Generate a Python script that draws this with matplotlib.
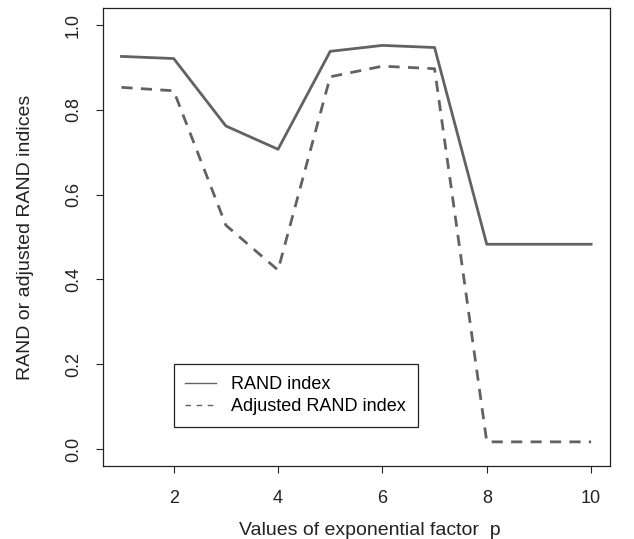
import matplotlib
matplotlib.use("Agg")
import matplotlib.pyplot as plt
from matplotlib.lines import Line2D

plt.rcParams['font.family'] = ['Liberation Sans', 'DejaVu Sans']

# exponential factor p
p_values = [1, 2, 3, 4, 5, 6, 7, 8, 9, 10]
# values
rand_index = [0.926, 0.921, 0.762, 0.707, 0.938, 0.952, 0.947, 0.483, 0.483, 0.483]
adj_rand_index = [0.853, 0.845, 0.528, 0.422, 0.878, 0.903, 0.897, 0.017, 0.017, 0.017]

x_ticks = [2, 4, 6, 8, 10]
y_ticks = [0.0, 0.2, 0.4, 0.6, 0.8, 1.0]

line_color = '#626262'
fs = 13


def main():
    fig = plt.figure(figsize=(6.34, 5.39), dpi=100)
    ax = fig.add_axes([0.162, 0.1354, 0.8, 0.8496])

    ax.plot(p_values, rand_index, color=line_color, lw=2, linestyle='-')
    ax.plot(p_values, adj_rand_index, color=line_color, lw=2, linestyle=(0, (4, 3)))

    # R style axes: 4% padding around data range
    ax.set_xlim(0.64, 10.36)
    ax.set_ylim(-0.04, 1.04)
    ax.set_xticks(x_ticks)
    ax.set_yticks(y_ticks)
    ax.set_xticklabels([str(t) for t in x_ticks])
    ax.set_yticklabels(['%.1f' % t for t in y_ticks], rotation=90, va='center')
    ax.tick_params(axis='both', direction='out', length=5, width=0.8,
                   labelsize=fs, color='#222222', labelcolor='#222222')
    ax.tick_params(axis='x', pad=12)
    ax.tick_params(axis='y', pad=10)
    for s in ax.spines.values():
        s.set_linewidth(0.9)
        s.set_color('#222222')

    # the original label sits a little right of the axis centre
    ax.set_xlabel('Values of exponential factor  p', fontsize=14, labelpad=11,
                  color='#222222', x=0.527)
    ax.set_ylabel('RAND or adjusted RAND indices', fontsize=14, labelpad=22,
                  color='#222222')

    handles = [Line2D([0], [0], color=line_color, lw=1, linestyle='-'),
               Line2D([0], [0], color=line_color, lw=1, linestyle=(0, (4, 4)))]
    leg = ax.legend(handles, ['RAND index', 'Adjusted RAND index'],
                    loc='upper left', bbox_to_anchor=(2, 0.2),
                    bbox_transform=ax.transData, borderaxespad=0,
                    fancybox=False, framealpha=1, edgecolor='#222222',
                    fontsize=fs, handlelength=1.7, handletextpad=0.85,
                    labelspacing=0.3, borderpad=0.65)
    leg.get_frame().set_linewidth(0.9)

    fig.savefig('out.png', dpi=100)


if __name__ == "__main__":
    main()
